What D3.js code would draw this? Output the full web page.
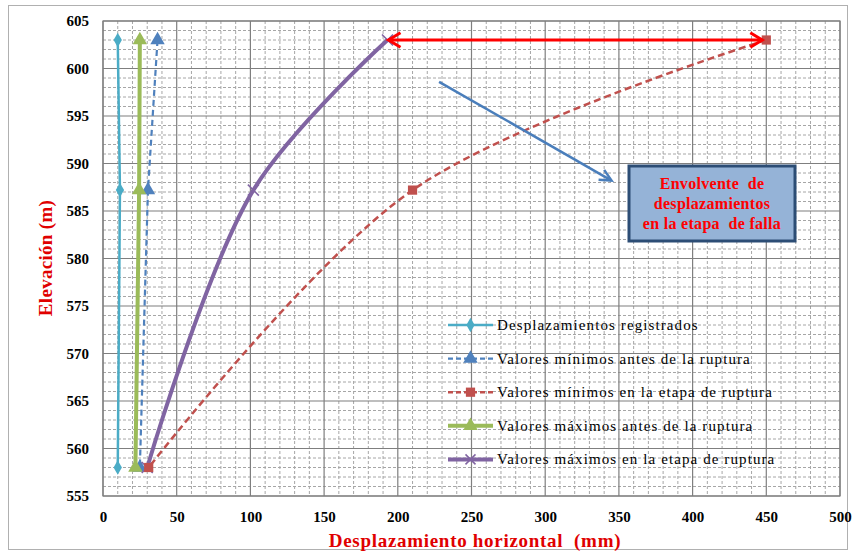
<!DOCTYPE html>
<html><head><meta charset="utf-8">
<script src="https://cdn.jsdelivr.net/npm/d3@7"></script>
<style>body{margin:0;background:#fff}svg{display:block}</style>
</head><body><svg id="c" width="854" height="552"></svg>
<script>
// ---- data ----
const seriesNames = ["Desplazamientos registrados","Valores mínimos antes de la ruptura","Valores mínimos en la etapa de ruptura","Valores máximos antes de la ruptura","Valores máximos en la etapa de ruptura"];
const elevations = [603, 587.2, 558];
const sRegistrados = [10, 11.5, 10];
const sMinAntes = [37, 30.5, 25];
const sMinRuptura = [450, 210, 31];
const sMaxAntes = [25, 24.5, 22];
const sMaxRuptura = [193, 102, 30];
const xTicks = [0,50,100,150,200,250,300,350,400,450,500];
const yTicks = [555,560,565,570,575,580,585,590,595,600,605];
const envelopeArrow = {x1:193, x2:450, y:603};
const pointerArrow = {x1:228, y1:598.6, x2:345, y2:588.2};
const boxLines = ["Envolvente  de","desplazamientos","en la etapa  de falla"];

const FONT = "'Liberation Serif','DejaVu Serif','Times New Roman',serif";
const svg = d3.select("#c");
const L=103, R=840, T=21, B=496;
const x = d3.scaleLinear().domain([0,500]).range([L,R]);
const y = d3.scaleLinear().domain([555,605]).range([B,T]);

svg.append("rect").attr("x",8.5).attr("y",5.5).attr("width",839).attr("height",544).attr("fill","#fff").attr("stroke","#b0b0b0");

const g = svg.append("g");
g.selectAll(".mx").data(d3.range(0,501,10).filter(v=>v%50)).enter().append("line")
 .attr("x1",d=>x(d)).attr("x2",d=>x(d)).attr("y1",T).attr("y2",B)
 .attr("stroke","#a6a6a6").attr("stroke-dasharray","3,2").attr("stroke-width",1);
g.selectAll(".my").data(d3.range(555,606,1).filter(v=>v%5)).enter().append("line")
 .attr("y1",d=>y(d)).attr("y2",d=>y(d)).attr("x1",L).attr("x2",R)
 .attr("stroke","#a6a6a6").attr("stroke-dasharray","3,2").attr("stroke-width",1);
g.selectAll(".Mx").data(xTicks).enter().append("line")
 .attr("x1",d=>x(d)).attr("x2",d=>x(d)).attr("y1",T).attr("y2",B)
 .attr("stroke","#7f7f7f").attr("stroke-width",1.2);
g.selectAll(".My").data(yTicks).enter().append("line")
 .attr("y1",d=>y(d)).attr("y2",d=>y(d)).attr("x1",L).attr("x2",R)
 .attr("stroke","#7f7f7f").attr("stroke-width",1.2);
g.append("rect").attr("x",L).attr("y",T).attr("width",R-L).attr("height",B-T).attr("fill","none").attr("stroke","#7f7f7f").attr("stroke-width",1.2);

const xa = svg.append("g").attr("transform",`translate(0,${B})`).call(d3.axisBottom(x).tickValues(xTicks).tickSize(0).tickPadding(15));
xa.select(".domain").remove();
xa.attr("font-family",null);
xa.selectAll("text").style("font-family",FONT).style("font-size","15px").style("font-weight","bold").attr("fill","#000");
const ya = svg.append("g").attr("transform",`translate(${L},0)`).call(d3.axisLeft(y).tickValues(yTicks).tickSize(0).tickPadding(14));
ya.select(".domain").remove();
ya.attr("font-family",null);
ya.selectAll("text").style("font-family",FONT).style("font-size","15px").style("font-weight","bold").attr("fill","#000");

svg.append("text").attr("x",475).attr("y",547).attr("text-anchor","middle").style("font-family",FONT).style("font-size","19px").style("font-weight","bold").style("letter-spacing","0.7px").attr("fill","#e00000").style("white-space","pre").text("Desplazamiento horizontal  (mm)");
svg.append("text").attr("transform","translate(52,258) rotate(-90)").attr("text-anchor","middle").style("font-family",FONT).style("font-size","19px").style("font-weight","bold").style("letter-spacing","0.3px").attr("fill","#e00000").text("Elevación (m)");

const styles = [
 {name:seriesNames[0], vals:sRegistrados, color:"#4bacc6", w:2.5, dash:null, marker:"diamond", curve:d3.curveLinear},
 {name:seriesNames[1], vals:sMinAntes, color:"#4f81bd", w:2.2, dash:"6,4", marker:"triangle", curve:d3.curveLinear},
 {name:seriesNames[3], vals:sMaxAntes, color:"#9bbb59", w:4, dash:null, marker:"triangle", curve:d3.curveLinear},
 {name:seriesNames[4], vals:sMaxRuptura, color:"#8064a2", w:4, dash:null, marker:"x", curve:d3.curveCatmullRom.alpha(0.5)},
 {name:seriesNames[2], vals:sMinRuptura, color:"#c0504d", w:2.5, dash:"7,4", marker:"square", curve:d3.curveCatmullRom.alpha(0.5)}
];
const legendOrder = [0,1,4,2,3];
function marker(sel, type, color, size){
  if(type==="x"){
    const s=size/2;
    sel.append("path").attr("d",`M${-s},${-s}L${s},${s}M${-s},${s}L${s},${-s}`).attr("stroke",color).attr("stroke-width",1.5).attr("fill","none");
  } else {
    const sym = type==="diamond"?d3.symbolDiamond: type==="triangle"?d3.symbolTriangle:d3.symbolSquare;
    const area = type==="diamond"?60: type==="triangle"?90:85;
    sel.append("path").attr("d",d3.symbol().type(sym).size(area)()).attr("fill",color);
  }
}
styles.forEach(s=>{
  const pts = elevations.map((e,i)=>[s.vals[i],e]);
  const line = d3.line().x(d=>x(d[0])).y(d=>y(d[1])).curve(s.curve);
  svg.append("path").attr("d",line(pts)).attr("fill","none").attr("stroke",s.color).attr("stroke-width",s.w).attr("stroke-dasharray",s.dash);
  pts.forEach(p=>{
    const m = svg.append("g").attr("transform",`translate(${x(p[0])},${y(p[1])})`);
    marker(m,s.marker,s.color,11);
  });
});

function chevron(px,py,dir,color,w,len){
  svg.append("path").attr("d",`M${px+dir*len},${py-len*0.6}L${px},${py}L${px+dir*len},${py+len*0.6}`).attr("fill","none").attr("stroke",color).attr("stroke-width",w).attr("stroke-linejoin","miter");
}
const ay = y(envelopeArrow.y);
svg.append("line").attr("x1",x(envelopeArrow.x1)+1).attr("x2",x(envelopeArrow.x2)-4).attr("y1",ay).attr("y2",ay).attr("stroke","#ff0000").attr("stroke-width",3);
chevron(x(envelopeArrow.x1)+1,ay,1,"#ff0000",3,12);
chevron(x(envelopeArrow.x2)-4,ay,-1,"#ff0000",3,12);

const px1=x(pointerArrow.x1), py1=y(pointerArrow.y1), px2=x(pointerArrow.x2), py2=y(pointerArrow.y2);
svg.append("line").attr("x1",px1).attr("y1",py1).attr("x2",px2).attr("y2",py2).attr("stroke","#4a7ebb").attr("stroke-width",2.5);
{
  const ang=Math.atan2(py2-py1,px2-px1), l=13, a=0.45;
  const p1=[px2-l*Math.cos(ang-a), py2-l*Math.sin(ang-a)], p2=[px2-l*Math.cos(ang+a), py2-l*Math.sin(ang+a)];
  svg.append("path").attr("d",`M${p1}L${px2},${py2}L${p2}`).attr("fill","none").attr("stroke","#4a7ebb").attr("stroke-width",2.5);
}
svg.append("rect").attr("x",629).attr("y",166).attr("width",166).attr("height",75).attr("fill","#95b3d7").attr("stroke","#2c4d75").attr("stroke-width",3);
boxLines.forEach((t,i)=>{
  svg.append("text").attr("x",712).attr("y",189+i*20).attr("text-anchor","middle").style("font-family",FONT).style("font-size","16px").style("font-weight","bold").style("letter-spacing","0.3px").style("white-space","pre").attr("fill","#ff0000").text(t);
});

legendOrder.forEach((si,i)=>{
  const s=styles[si];
  const ly = 325 + i*33.6;
  svg.append("line").attr("x1",448).attr("x2",493).attr("y1",ly).attr("y2",ly).attr("stroke",s.color).attr("stroke-width",s.w).attr("stroke-dasharray",s.dash?"5,3":null);
  const m=svg.append("g").attr("transform",`translate(470.5,${ly})`);
  marker(m,s.marker,s.color,10);
  svg.append("text").attr("x",497).attr("y",ly+5).style("font-family",FONT).style("font-size","15px").style("letter-spacing","1.1px").attr("fill","#000").text(s.name);
});
</script></body></html>
